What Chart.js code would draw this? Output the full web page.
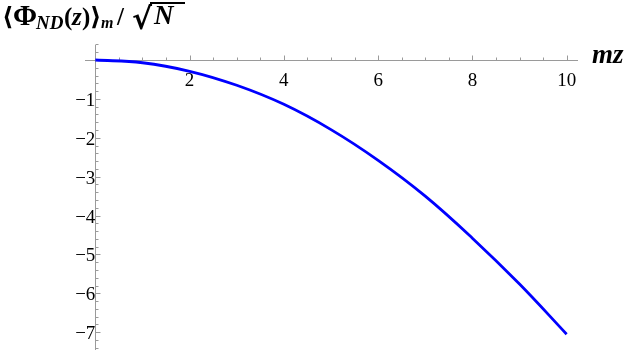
<!DOCTYPE html>
<html>
<head>
<meta charset="utf-8">
<script src="https://cdn.jsdelivr.net/npm/chart.js@4/dist/chart.umd.min.js"></script>
<style>
  html, body { margin: 0; padding: 0; background: #fff; }
  #wrap { position: relative; width: 630px; height: 352px; }
</style>
</head>
<body>
<div id="wrap"><canvas id="c" width="630" height="352"></canvas></div>
<script>
// ---- data ----
const mzValues = [0, 1, 2, 3, 4, 5, 6, 7, 8, 9, 10];
const phiValues = [0, -0.07, -0.29, -0.65, -1.14, -1.79, -2.58, -3.50, -4.58, -5.76, -7.05];
const xTickLabels = [2, 4, 6, 8, 10];
const yTickLabels = [-1, -2, -3, -4, -5, -6, -7];

const AXIS_COLOR = '#9a9a9a';
const LABEL_FONT = '"Liberation Serif", "Times New Roman", "DejaVu Serif", serif';

const points = mzValues.map((x, i) => ({ x: x, y: phiValues[i] }));

const tickPlugin = {
  id: 'mmaTicks',
  beforeDatasetsDraw(chart) {
    const ctx = chart.ctx;
    const xs = chart.scales.x, ys = chart.scales.y;
    const y0 = Math.round(ys.getPixelForValue(0)) + 0.5;
    const x0 = Math.round(xs.getPixelForValue(0)) + 0.5;
    ctx.save();
    ctx.strokeStyle = AXIS_COLOR;
    ctx.lineWidth = 1;
    ctx.beginPath();
    for (let k = 1; k <= 20; k++) {
      const v = k * 0.5;
      const px = Math.round(xs.getPixelForValue(v)) + 0.5;
      const len = xTickLabels.includes(v) ? 5 : 3;
      ctx.moveTo(px, y0);
      ctx.lineTo(px, y0 - len);
    }
    for (let k = 2; k >= -37; k--) {
      if (k === 0) continue;
      const v = k * 0.2;
      const py = Math.round(ys.getPixelForValue(v)) + 0.5;
      const len = (k % 5 === 0) ? 5 : 3;
      ctx.moveTo(x0, py);
      ctx.lineTo(x0 + len, py);
    }
    ctx.stroke();
    ctx.restore();
  }
};

const labelPlugin = {
  id: 'mmaLabels',
  afterDraw(chart) {
    const ctx = chart.ctx;
    ctx.save();
    ctx.fillStyle = '#000';
    ctx.textBaseline = 'alphabetic';
    const main = 'bold 25px ' + LABEL_FONT;
    const ital = 'italic bold 25px ' + LABEL_FONT;
    const sub = 'italic bold 19px ' + LABEL_FONT;
    const base = 25;
    const parts = [
      ['\u27E8', main, 2, base],
      ['\u03A6', 'bold 29px ' + LABEL_FONT, 13, base],
      ['ND', sub, 36, base + 4],
      ['(', main, 64, base],
      ['z', ital, 72, base],
      [')', main, 82, base],
      ['\u27E9', main, 90, base],
      ['m', 'italic bold 16px ' + LABEL_FONT, 101, base + 3],
      ['/', main, 117, base],
      ['\u221A', 'bold 30px "DejaVu Sans", sans-serif', 132, base + 4],
      ['N', 'italic bold 27px ' + LABEL_FONT, 154, base - 1]
    ];
    for (const [t, f, x, y] of parts) {
      ctx.font = f;
      ctx.fillText(t, x, y);
    }
    ctx.fillRect(150, 2, 35, 2);
    ctx.font = 'italic bold 27px ' + LABEL_FONT;
    ctx.fillText('mz', 592, 63);
    ctx.restore();
  }
};

function noPad(scale) {
  scale.paddingTop = 0; scale.paddingBottom = 0;
  scale.paddingLeft = 0; scale.paddingRight = 0;
}

new Chart(document.getElementById('c'), {
  type: 'line',
  data: {
    datasets: [{
      data: points,
      borderColor: '#0000ff',
      borderWidth: 2.8,
      pointRadius: 0,
      fill: false,
      tension: 0.4
    }]
  },
  options: {
    responsive: false,
    animation: false,
    layout: { padding: { left: 85, right: 53, top: 45, bottom: 3 } },
    plugins: { legend: { display: false }, tooltip: { enabled: false } },
    scales: {
      x: {
        type: 'linear',
        min: -0.22,
        max: 10.22,
        position: { y: 0 },
        grid: { display: false, drawTicks: false },
        border: { display: true, color: AXIS_COLOR, width: 1 },
        afterBuildTicks(scale) { scale.ticks = xTickLabels.map(v => ({ value: v })); },
        afterFit: noPad,
        ticks: {
          autoSkip: false,
          maxRotation: 0,
          padding: 10,
          color: '#000',
          font: { family: LABEL_FONT, size: 19 },
          callback: v => String(v)
        }
      },
      y: {
        type: 'linear',
        min: -7.43,
        max: 0.386,
        position: { x: 0 },
        grid: { display: false, drawTicks: false },
        border: { display: true, color: AXIS_COLOR, width: 1 },
        afterBuildTicks(scale) { scale.ticks = yTickLabels.map(v => ({ value: v })); },
        afterFit: noPad,
        ticks: {
          autoSkip: false,
          padding: 6,
          labelOffset: 2,
          color: '#000',
          font: { family: LABEL_FONT, size: 19 },
          callback: v => (v < 0 ? '\u2212' + Math.abs(v) : String(v))
        }
      }
    }
  },
  plugins: [tickPlugin, labelPlugin]
});
</script>
</body>
</html>
